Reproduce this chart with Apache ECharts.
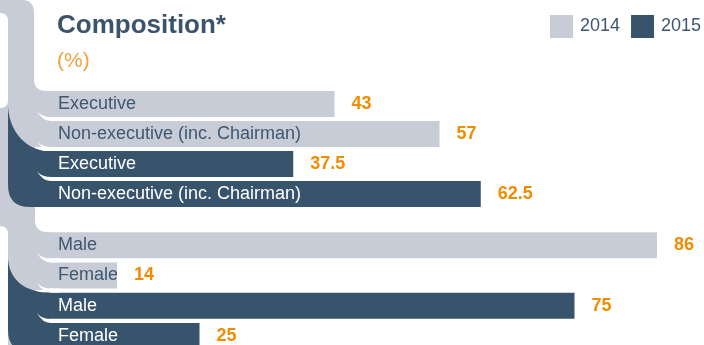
<!DOCTYPE html>
<html>
<head>
<meta charset="utf-8">
<script src="https://cdn.jsdelivr.net/npm/echarts@6/dist/echarts.min.js"></script>
<style>
  html, body { margin: 0; padding: 0; background: #fff; }
  #chart { width: 704px; height: 345px; }
</style>
</head>
<body>
<div id="chart"></div>
<script>
// Board composition and gender split, in percent
const years = ['2014', '2015'];
const boardLabels = ['Executive', 'Non-executive (inc. Chairman)', 'Executive', 'Non-executive (inc. Chairman)'];
const board2014 = [43, 57, '-', '-'];
const board2015 = ['-', '-', 37.5, 62.5];
const genderLabels = ['Male', 'Female', 'Male', 'Female'];
const gender2014 = [86, 14, '-', '-'];
const gender2015 = ['-', '-', 75, 25];

const FONT = '"Liberation Sans", Arial, Helvetica, sans-serif';
const GREY = '#c8ccd6';
const DARK = '#37546c';
const SLATE = '#3b536b';
const ORANGE = '#f08c00';

const chart = echarts.init(document.getElementById('chart'), null, { renderer: 'canvas' });

function catAxis(gridIndex, labels) {
  return {
    type: 'category',
    gridIndex: gridIndex,
    inverse: true,
    data: labels,
    z: 10,
    axisLine: { show: false },
    axisTick: { show: false },
    axisLabel: {
      inside: true,
      margin: 46,
      fontFamily: FONT,
      fontSize: 18,
      color: function (v, i) { return i < 2 ? '#3f5770' : '#ffffff'; }
    }
  };
}

function valAxis(gridIndex) {
  return {
    type: 'value', gridIndex: gridIndex, min: 0, max: 90,
    show: false, splitLine: { show: false }
  };
}

function barSeries(name, color, data, gridIndex) {
  return {
    name: name,
    type: 'bar',
    xAxisIndex: gridIndex,
    yAxisIndex: gridIndex,
    data: data,
    barWidth: 26,
    barGap: '-100%',
    itemStyle: { color: color },
    label: {
      show: true,
      position: 'right',
      distance: 17,
      fontFamily: FONT,
      fontSize: 18,
      fontWeight: 'bold',
      color: ORANGE
    },
    emphasis: { disabled: true }
  };
}

// Curved ribbon on the left that ties each year's bars together
function pathEl(d, fill, order) {
  return { type: 'path', z2: order, shape: { pathData: d }, style: { fill: fill } };
}
function swoosh(y1, y2) {
  return pathEl('M37,' + (y1 - 6) + ' Q41,' + y1 + ' 52,' + y1 + ' H60 V' + y2 +
    ' H52 Q42,' + y2 + ' 37,' + (y1 - 6) + ' Z', '#ffffff', 10);
}

const ribbonParts = [
  pathEl('M-5,0 H22 Q34,0 34,13 V79 Q34,91 46,91 H50 V147 H35 V220 Q35,232 47,232 H50 V290 H35 V350 H-5 Z', GREY, 1),
  pathEl('M-10,13 H0 Q8,13 8,21 V100 Q8,108 0,108 H-10 Z', '#ffffff', 2),
  pathEl('M-10,226 H0 Q8,226 8,234 V360 H-10 Z', '#ffffff', 2),
  pathEl('M8,106 C9,128 22,147 44,151 H50 V207 H30 Q8,207 8,185 Z', DARK, 3),
  pathEl('M8,258 C9,278 22,290 44,292.5 H50 V352 H30 Q8,352 8,330 Z', DARK, 3),
  swoosh(117, 121), swoosh(147, 151), swoosh(177, 181),
  swoosh(258.5, 262.5), swoosh(288.5, 292.5), swoosh(319, 323)
];

chart.setOption({
  animation: false,
  backgroundColor: '#ffffff',
  title: {
    text: 'Composition*',
    subtext: '(%)',
    left: 52,
    top: 8,
    itemGap: 12,
    textStyle: { fontFamily: FONT, fontSize: 26, fontWeight: 'bold', color: SLATE },
    subtextStyle: { fontFamily: FONT, fontSize: 21, color: '#f3a23a' }
  },
  legend: {
    data: years,
    orient: 'horizontal',
    left: 550,
    top: 15,
    width: 200,
    padding: 0,
    icon: 'rect',
    itemWidth: 23,
    itemHeight: 23,
    itemGap: 11,
    selectedMode: false,
    textStyle: { fontFamily: FONT, fontSize: 18, color: '#3f5770', padding: [0, 0, 0, 2] }
  },
  grid: [
    { left: 12, right: 17, top: 89, height: 120, outerBoundsMode: 'none' },
    { left: 12, right: 17, top: 230, height: 121, outerBoundsMode: 'none' }
  ],
  xAxis: [valAxis(0), valAxis(1)],
  yAxis: [catAxis(0, boardLabels), catAxis(1, genderLabels)],
  series: [
    barSeries(years[0], GREY, board2014, 0),
    barSeries(years[1], DARK, board2015, 0),
    barSeries(years[0], GREY, gender2014, 1),
    barSeries(years[1], DARK, gender2015, 1),
    {
      type: 'custom',
      coordinateSystem: 'none',
      silent: true,
      z: 3,
      data: [0],
      renderItem: function () {
        return { type: 'group', children: ribbonParts };
      }
    }
  ]
});
</script>
</body>
</html>
